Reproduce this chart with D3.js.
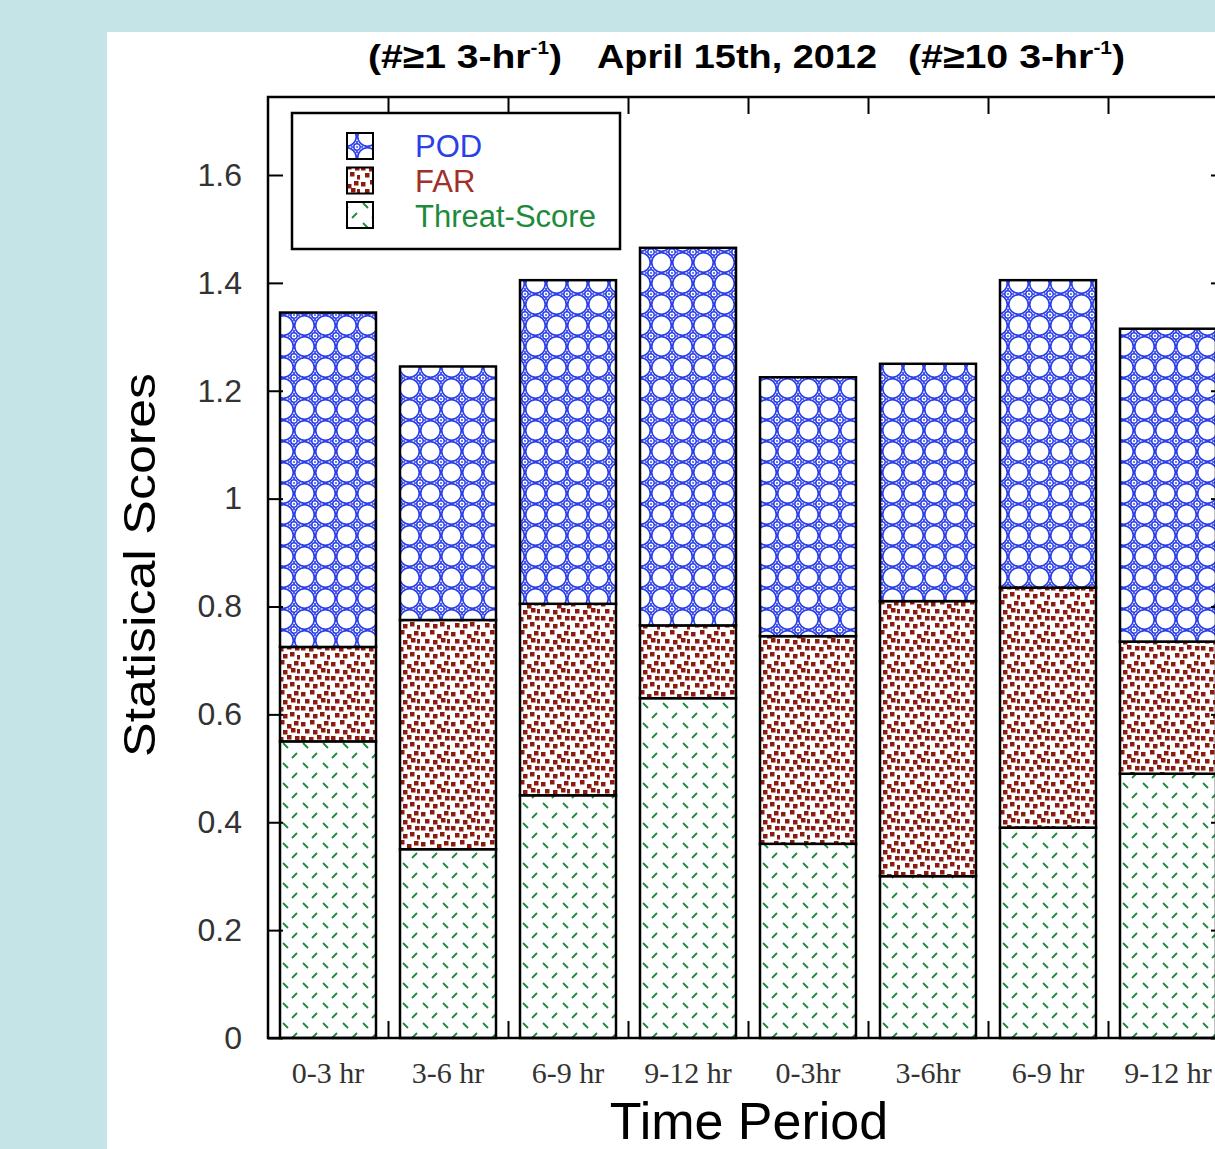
<!DOCTYPE html>
<html>
<head>
<meta charset="utf-8">
<script src="https://cdn.jsdelivr.net/npm/d3@7"></script>
<style>
body { margin: 0; background: #c5e4e7; overflow: hidden; }
svg { display: block; }
</style>
</head>
<body>
<div id="chart"></div>
<script>
// data
var periods = ["0-3 hr", "3-6 hr", "6-9 hr", "9-12 hr", "0-3hr", "3-6hr", "6-9 hr", "9-12 hr"];
var threatScore = [0.55, 0.35, 0.45, 0.63, 0.36, 0.30, 0.39, 0.49];
var far = [0.175, 0.425, 0.355, 0.135, 0.385, 0.51, 0.445, 0.245];
var pod = [0.62, 0.47, 0.60, 0.70, 0.48, 0.44, 0.57, 0.58];
var yTicks = [0, 0.2, 0.4, 0.6, 0.8, 1, 1.2, 1.4, 1.6];
var legendNames = ["POD", "FAR", "Threat-Score"];

var width = 1215, height = 1149;
var plotLeft = 268, plotRight = 1228, plotTop = 97, plotBottom = 1038;
var blue = "#2b3fe8", red = "#8c1a0e", green = "#1e8a3c";

var rows = periods.map(function(p, i) {
  return {i: i, ts: threatScore[i], far: far[i], pod: pod[i]};
});
var series = d3.stack().keys(["ts", "far", "pod"])(rows);

var svg = d3.select("#chart").append("svg")
  .attr("width", width)
  .attr("height", height);

// white panel
svg.append("rect").attr("x", 107).attr("y", 32)
  .attr("width", width - 107).attr("height", height - 32).attr("fill", "white");

var defs = svg.append("defs");

// POD: blue circles touching each other, small rings at the nodes
var pp = defs.append("pattern").attr("id", "podPat")
  .attr("patternUnits", "userSpaceOnUse").attr("width", 21).attr("height", 21);
pp.append("rect").attr("width", 21).attr("height", 21).attr("fill", "white");
pp.append("circle").attr("cx", 10.5).attr("cy", 10.5).attr("r", 9.8)
  .attr("fill", "none").attr("stroke", blue).attr("stroke-width", 1.7);
[[0, 0], [21, 0], [0, 21], [21, 21]].forEach(function(c) {
  pp.append("path")
    .attr("d", "M" + (c[0] - 6) + "," + c[1] + "H" + (c[0] + 6) + "M" + c[0] + "," + (c[1] - 6) + "V" + (c[1] + 6))
    .attr("stroke", blue).attr("stroke-width", 1.7);
  pp.append("circle").attr("cx", c[0]).attr("cy", c[1]).attr("r", 3.2)
    .attr("fill", "white").attr("stroke", blue).attr("stroke-width", 1.5);
  pp.append("circle").attr("cx", c[0]).attr("cy", c[1]).attr("r", 0.9).attr("fill", blue);
});

// FAR: scattered dark red squares
var fp = defs.append("pattern").attr("id", "farPat")
  .attr("patternUnits", "userSpaceOnUse").attr("width", 30).attr("height", 30);
fp.append("rect").attr("width", 30).attr("height", 30).attr("fill", "white");
var dots = [[1,2],[10,0],[17,4],[24,1],[5,9],[13,10],[21,8],[1,16],[9,17],[17,15],[25,16],
            [5,23],[13,24],[20,22],[27,9],[27,25]];
dots.forEach(function(d) {
  fp.append("rect").attr("x", d[0]).attr("y", d[1]).attr("width", 4.5).attr("height", 4.5).attr("fill", red);
});

// Threat score: green short diagonal dashes
var tp = defs.append("pattern").attr("id", "tsPat")
  .attr("patternUnits", "userSpaceOnUse").attr("width", 20).attr("height", 20);
tp.append("rect").attr("width", 20).attr("height", 20).attr("fill", "white");
tp.append("path").attr("d", "M3,3L8,8M12,18L17,13")
  .attr("stroke", green).attr("stroke-width", 1.8);

var fills = {ts: "url(#tsPat)", far: "url(#farPat)", pod: "url(#podPat)"};

// scales
var x = d3.scaleBand()
  .domain(d3.range(periods.length))
  .range([plotLeft, plotRight])
  .paddingInner(0.2)
  .paddingOuter(0.1);

var y = d3.scaleLinear()
  .domain([0, 1.6])
  .range([plotBottom, 175]);

// stacked bars
svg.selectAll("g.layer")
  .data(series)
  .join("g")
  .attr("class", "layer")
  .attr("fill", d => fills[d.key])
  .selectAll("rect")
  .data(d => d)
  .join("rect")
  .attr("x", d => x(d.data.i))
  .attr("y", d => y(d[1]))
  .attr("width", x.bandwidth())
  .attr("height", d => y(d[0]) - y(d[1]))
  .attr("stroke", "black")
  .attr("stroke-width", 2.5);

// frame
svg.append("path")
  .attr("d", "M" + plotRight + "," + plotTop + "H" + plotLeft + "V" + plotBottom + "H" + plotRight + "V" + plotTop)
  .attr("fill", "none").attr("stroke", "black").attr("stroke-width", 2.5);

// y axis left, ticks inward
var y_axis = d3.axisLeft(y).tickValues(yTicks).tickSize(-15).tickPadding(26)
  .tickFormat(d3.format("~g"));
var gy = svg.append("g").attr("transform", "translate(" + plotLeft + ",0)").call(y_axis);
gy.select(".domain").remove();
gy.selectAll("line").attr("stroke-width", 2);
gy.selectAll("text").style("font-family", "Liberation Sans, Arial, sans-serif")
  .style("font-size", "32px").attr("fill", "#333");

// y axis right, ticks only
var gy2 = svg.append("g").attr("transform", "translate(" + plotRight + ",0)")
  .call(d3.axisRight(y).tickValues(yTicks).tickSize(-17).tickFormat(""));
gy2.select(".domain").remove();
gy2.selectAll("line").attr("stroke-width", 2);

// band boundary ticks at bottom and top
var xb = d3.scaleLinear().domain([0, periods.length]).range([plotLeft, plotRight]);
var gb = svg.append("g").attr("transform", "translate(0," + plotBottom + ")")
  .call(d3.axisBottom(xb).tickValues(d3.range(1, periods.length)).tickSize(-17).tickFormat(""));
gb.select(".domain").remove();
gb.selectAll("line").attr("stroke-width", 2);
var gt = svg.append("g").attr("transform", "translate(0," + plotTop + ")")
  .call(d3.axisTop(xb).tickValues(d3.range(1, periods.length)).tickSize(-17).tickFormat(""));
gt.select(".domain").remove();
gt.selectAll("line").attr("stroke-width", 2);

// x labels
var gx = svg.append("g").attr("transform", "translate(0," + plotBottom + ")")
  .call(d3.axisBottom(x).tickSize(0).tickPadding(24).tickFormat(i => periods[i]));
gx.select(".domain").remove();
gx.selectAll("text").style("font-family", "Liberation Serif, Times New Roman, serif")
  .style("font-size", "30px").attr("fill", "#333");

// axis titles
svg.append("text").attr("x", 749).attr("y", 1139).attr("text-anchor", "middle")
  .style("font-family", "Liberation Sans, Arial, sans-serif").style("font-size", "52px")
  .text("Time Period");
svg.append("text").attr("transform", "translate(155,565) rotate(-90)").attr("text-anchor", "middle")
  .attr("textLength", 384).attr("lengthAdjust", "spacingAndGlyphs")
  .style("font-family", "Liberation Sans, Arial, sans-serif").style("font-size", "45px")
  .text("Statisical Scores");

// title
function titlePart(xpos, len, main, sup, tail) {
  var t = svg.append("text").attr("x", xpos).attr("y", 68)
    .attr("textLength", len).attr("lengthAdjust", "spacingAndGlyphs")
    .style("font-family", "Liberation Sans, Arial, sans-serif").style("font-size", "34px")
    .style("font-weight", "bold");
  t.append("tspan").text(main);
  if (sup) {
    t.append("tspan").attr("dy", -14).style("font-size", "18px").text(sup);
    t.append("tspan").attr("dy", 14).text(tail);
  }
}
titlePart(368, 194, "(#\u22651 3-hr", "-1", ")");
titlePart(597, 280, "April 15th, 2012");
titlePart(908, 217, "(#\u226510 3-hr", "-1", ")");

// legend
svg.append("rect").attr("x", 292).attr("y", 113).attr("width", 328).attr("height", 136)
  .attr("fill", "white").attr("stroke", "black").attr("stroke-width", 2.5);
var legendFills = ["url(#podPat)", "url(#farPat)", "url(#tsPat)"];
var legendColors = [blue, "#a0302a", green];
legendNames.forEach(function(n, i) {
  svg.append("rect").attr("x", 347).attr("y", 133 + i * 34.5).attr("width", 26).attr("height", 26)
    .attr("fill", legendFills[i]).attr("stroke", "black").attr("stroke-width", 2);
  svg.append("text").attr("x", 415).attr("y", 157 + i * 35)
    .style("font-family", "Liberation Sans, Arial, sans-serif").style("font-size", "31px")
    .attr("fill", legendColors[i]).text(n);
});
</script>
</body>
</html>
